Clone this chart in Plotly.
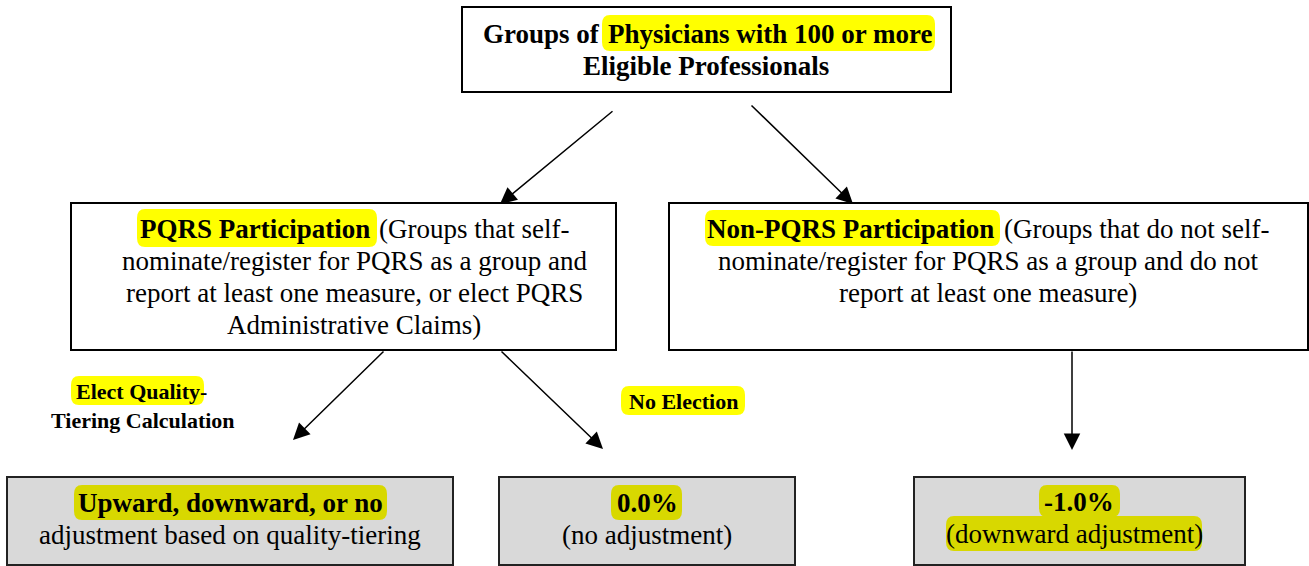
import plotly.graph_objects as go

W, H = 1309, 566
FONT = "Liberation Serif"
BIG = 27
SMALL = 22
YEL = "#ffff00"
YEL_DARK = "#d8d800"

# ---- node texts ----
top_lines = ["Groups of", "Physicians with 100 or more", "Eligible Professionals"]
pqrs_lines = ["PQRS Participation", "(Groups that self-",
              "nominate/register for PQRS as a group and",
              "report at least one measure, or elect PQRS",
              "Administrative Claims)"]
nonpqrs_lines = ["Non-PQRS Participation", "(Groups that do not self-",
                 "nominate/register for PQRS as a group and do not",
                 "report at least one measure)"]
out1_lines = ["Upward, downward, or no", "adjustment based on quality-tiering"]
out2_lines = ["0.0%", "(no adjustment)"]
out3_lines = ["-1.0%", "(downward adjustment)"]
edge_labels = ["Elect Quality-", "Tiering Calculation", "No Election"]

# ---- layout geometry (pixels) ----
boxes = [  # x0, x1, y0, y1, fill, line
    (462, 951, 7, 92, "white", "black"),
    (71, 616, 203, 350, "white", "black"),
    (669, 1308, 203, 350, "white", "black"),
    (7, 453, 477, 565, "#d9d9d9", "#222222"),
    (499, 795, 477, 565, "#d9d9d9", "#222222"),
    (914, 1245, 477, 565, "#d9d9d9", "#222222"),
]
highlights = [  # x0, x1, y0, y1, colour
    (602, 935, 15, 51, YEL),
    (137, 377, 209, 247, YEL),
    (705, 1000, 210, 246, YEL),
    (71, 204, 376, 405, YEL),
    (621, 745, 386, 415, YEL),
    (74, 387, 485, 520, YEL_DARK),
    (611, 682, 485, 520, YEL_DARK),
    (1039, 1120, 485, 517, YEL_DARK),
    (946, 1202, 516, 551, YEL_DARK),
]
arrows = [  # x_start, y_start, x_end, y_end
    (614, 110, 500, 204),
    (750, 104, 853, 204),
    (385, 350, 293, 440),
    (500, 350, 603, 449),
    (1072, 350, 1072, 450),
]

fig = go.Figure()
fig.add_trace(go.Scatter(x=[0, W], y=[0, H], mode="markers",
                         marker=dict(opacity=0), hoverinfo="skip", showlegend=False))

for x0, x1, y0, y1, fill, line in boxes:
    fig.add_shape(type="rect", x0=x0, x1=x1, y0=y0, y1=y1, xref="x", yref="y",
                  fillcolor=fill, line=dict(color=line, width=2), layer="below")


def pill(x0, x1, y0, y1, rx=8, ry=9):
    return (f"M{x0 + rx},{y0} L{x1 - rx},{y0} Q{x1},{y0} {x1},{y0 + ry} "
            f"L{x1},{y1 - ry} Q{x1},{y1} {x1 - rx},{y1} L{x0 + rx},{y1} "
            f"Q{x0},{y1} {x0},{y1 - ry} L{x0},{y0 + ry} Q{x0},{y0} {x0 + rx},{y0} Z")


for x0, x1, y0, y1, col in highlights:
    fig.add_shape(type="path", path=pill(x0, x1, y0, y1), xref="x", yref="y",
                  fillcolor=col, line=dict(width=0), layer="below")

anns = []


def txt(x, y, s, size=BIG, bold=False, anchor="center"):
    t = f"<b>{s}</b>" if bold else s
    anns.append(dict(x=x, y=y, xref="x", yref="y", text=t, showarrow=False,
                     xanchor=anchor, yanchor="middle",
                     font=dict(family=FONT, size=size, color="black"), borderpad=1))


# top box
txt(602, 34, top_lines[0], bold=True, anchor="right")
txt(606, 34, top_lines[1], bold=True, anchor="left")
txt(706, 66, top_lines[2], bold=True)

# PQRS box
txt(372, 229, pqrs_lines[0], bold=True, anchor="right")
txt(377, 229, pqrs_lines[1], anchor="left")
txt(354, 261, pqrs_lines[2])
txt(354, 293, pqrs_lines[3])
txt(354, 325, pqrs_lines[4])

# Non-PQRS box
txt(996, 229, nonpqrs_lines[0], bold=True, anchor="right")
txt(1002, 229, nonpqrs_lines[1], anchor="left")
txt(988, 261, nonpqrs_lines[2])
txt(988, 293, nonpqrs_lines[3])

# outcome boxes
txt(230, 503, out1_lines[0], bold=True)
txt(230, 535, out1_lines[1])
txt(647, 503, out2_lines[0], bold=True)
txt(647, 535, out2_lines[1])
txt(1079, 502, out3_lines[0], bold=True)
txt(1074, 534, out3_lines[1])

# edge labels
txt(141, 391, edge_labels[0], size=SMALL, bold=True)
txt(143, 420, edge_labels[1], size=SMALL, bold=True)
txt(683, 401, edge_labels[2], size=SMALL, bold=True)

for xs, ys, xe, ye in arrows:
    anns.append(dict(x=xe, y=ye, ax=xs, ay=ys, xref="x", yref="y", axref="x", ayref="y",
                     text="", showarrow=True, arrowhead=2, arrowsize=2.2,
                     arrowwidth=1.5, arrowcolor="black", standoff=0, startstandoff=0))

fig.update_layout(
    width=W, height=H, margin=dict(l=0, r=0, t=0, b=0),
    paper_bgcolor="white", plot_bgcolor="white",
    xaxis=dict(range=[0, W], visible=False, fixedrange=True),
    yaxis=dict(range=[H, 0], visible=False, fixedrange=True),
    annotations=anns, showlegend=False,
)
fig.write_html("out.html", config={"displayModeBar": False},
               post_script="document.body.style.margin='0';document.body.style.padding='0';"
                           "document.body.style.overflow='hidden';")
